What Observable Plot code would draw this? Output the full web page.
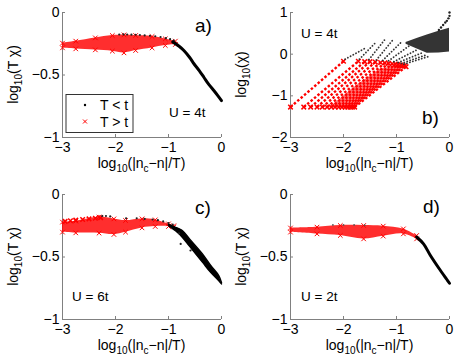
<!DOCTYPE html>
<html><head><meta charset="utf-8">
<script src="https://cdn.jsdelivr.net/npm/d3@7"></script>
<script src="https://cdn.jsdelivr.net/npm/@observablehq/plot@0.6"></script>
<style>
body{margin:0;background:#fff;}
#wrap{position:relative;width:457px;height:364px;font-family:"Liberation Sans",Arial,Helvetica,sans-serif;}
#wrap svg{position:absolute;overflow:visible;}
</style></head><body><div id="wrap"></div>
<script>
// ---- shared ticks / labels ----
const xTicks = [-3, -2, -1, 0];
const yTicksT = [-1, -0.5, 0];
const yTicksB = [-2, -1, 0, 1];
const xLabelParts = [["log", 0], ["10", 1], ["(|n", 0], ["c", 1], ["\u2212n|/T)", 0]];
const yLabelTchi = [["log", 0], ["10", 1], ["(T \u03c7)", 0]];
const yLabelChi = [["log", 0], ["10", 1], ["(\u03c7)", 0]];
const legendLabels = ["T < t", "T > t"];

// ---- panel a (U = 4t) ----
const aRedX = [-3.0, -2.75, -2.38, -2.06, -1.84, -1.62, -1.31, -1.06, -0.87];
const aRedTop = [-0.245, -0.229, -0.203, -0.184, -0.179, -0.184, -0.192, -0.211, -0.229];
const aRedBot = [-0.283, -0.291, -0.299, -0.309, -0.323, -0.304, -0.283, -0.264, -0.256];
const aDotX = [-1.93, -1.85, -1.78, -1.7, -1.62, -1.54, -1.45, -1.35, -1.25, -1.15, -1.05, -0.97, -0.9];
const aDotY = [-0.176, -0.175, -0.176, -0.177, -0.178, -0.18, -0.183, -0.186, -0.19, -0.196, -0.205, -0.213, -0.224];
const aCurveX = [-0.92, -0.8, -0.71, -0.6, -0.52, -0.42, -0.33, -0.24, -0.145, -0.07, 0];
const aCurveY = [-0.235, -0.27, -0.304, -0.36, -0.41, -0.465, -0.52, -0.575, -0.624, -0.665, -0.705];

// ---- panel b (U = 4t, log chi) ----
const bRedX1 = [-3.0, -2.75, -2.62, -2.5, -2.4, -2.31, -2.23, -2.16, -2.09, -2.03, -1.97, -1.92, -1.87, -1.83, -1.79];
const bRedY1 = [-1.27, -1.27, -1.27, -1.27, -1.27, -1.27, -1.27, -1.27, -1.27, -1.27, -1.27, -1.27, -1.27, -1.27, -1.27];
const bRedX2 = [-2.0, -1.72, -1.6, -1.5, -1.4, -1.3, -1.22, -1.15, -1.08, -1.02, -0.97, -0.92, -0.88, -0.85, -0.82];
const bRedY2 = [-0.17, -0.17, -0.18, -0.18, -0.19, -0.2, -0.21, -0.22, -0.23, -0.24, -0.25, -0.26, -0.27, -0.28, -0.3];
const bCoreX = [-2.25, -1.8, -1.3, -0.85];
const bCoreLo = [-1.27, -1.27, -0.73, -0.3];
const bCoreHi = [-1.27, -0.8, -0.35, -0.27];
const bBlkX1 = [-1.97, -1.7, -1.52, -1.38, -1.26, -1.15, -1.05, -0.97, -0.91, -0.86];
const bBlkY1 = [-0.12, -0.12, -0.13, -0.14, -0.15, -0.16, -0.18, -0.2, -0.22, -0.24];
const bBlkX2 = [-1.58, -1.4, -1.22, -1.05, -0.9, -0.76, -0.62, -0.52, -0.44, -0.38];
const bBlkY2 = [0.15, 0.27, 0.35, 0.37, 0.3, 0.2, 0.1, 0.03, -0.02, -0.05];
const bFanX = [-0.82, -0.6, -0.42, -0.2, 0];
const bFanTop = [0.28, 0.38, 0.46, 0.55, 0.62];
const bFanBot = [0.24, 0.12, 0.02, 0.03, 0.05];
const bSpikeX = [-0.2, -0.16, -0.12, -0.08, -0.05, -0.02, 0, 0];
const bSpikeY = [0.58, 0.64, 0.7, 0.76, 0.8, 0.86, 0.92, 1.0];

// ---- panel c (U = 6t) ----
const cRedX = [-3.0, -2.75, -2.31, -2.03, -1.81, -1.5, -1.25, -1.0, -0.9];
const cRedTop = [-0.221, -0.213, -0.181, -0.195, -0.208, -0.195, -0.203, -0.235, -0.25];
const cRedBot = [-0.301, -0.307, -0.309, -0.32, -0.301, -0.267, -0.256, -0.256, -0.26];
const cXrX = [-2.95, -2.85, -2.75, -2.62, -2.5, -2.38, -2.28];
const cXrY = [-0.215, -0.21, -0.205, -0.2, -0.195, -0.19, -0.185];
const cDotX = [-2.25, -2.18, -2.1, -1.8, -1.6, -1.45, -1.3, -1.2, -1.1, -1.0, -0.92, -0.77, -0.585, -0.8];
const cDotY = [-0.172, -0.172, -0.175, -0.19, -0.19, -0.195, -0.2, -0.205, -0.215, -0.228, -0.24, -0.395, -0.448, -0.31];
const cBandX = [-1.0, -0.84, -0.74, -0.6, -0.36, -0.2, -0.05, 0];
const cBandTop = [-0.24, -0.268, -0.288, -0.357, -0.475, -0.57, -0.65, -0.705];
const cBandBot = [-0.25, -0.3, -0.341, -0.415, -0.541, -0.625, -0.69, -0.715];

// ---- panel d (U = 2t) ----
const dRedX = [-3.0, -2.5, -2.06, -1.62, -1.25, -0.87, -0.62];
const dRedTop = [-0.268, -0.261, -0.248, -0.248, -0.253, -0.275, -0.328];
const dRedBot = [-0.301, -0.315, -0.328, -0.355, -0.333, -0.315, -0.355];
const dDotX = [-2.2, -2.0, -1.8, -1.6];
const dDotY = [-0.243, -0.243, -0.243, -0.245];
const dCurveX = [-0.62, -0.49, -0.36, -0.2, -0.05, 0];
const dCurveY = [-0.34, -0.395, -0.488, -0.59, -0.68, -0.71];

// ---- helpers ----
const RED = "#ff0000";
const GRAY = "#808080";
const zip2 = (xs, ys) => xs.map((x, i) => ({x, y: ys[i]}));
const band = (xs, t, b) => xs.map((x, i) => ({x, top: t[i], bot: b[i]}));
const fmt = d => d < 0 ? "\u2212" + Math.abs(d) : String(d);

function redBandMarks(tbl) {
  return [
    Plot.areaY(tbl, {x: "x", y1: "bot", y2: "top", fill: RED, fillOpacity: 0.82, curve: "catmull-rom"}),
    Plot.dot(tbl, {x: "x", y: "top", symbol: "times", r: 2.2, stroke: RED, strokeWidth: 1}),
    Plot.dot(tbl, {x: "x", y: "bot", symbol: "times", r: 2.2, stroke: RED, strokeWidth: 1})
  ];
}

function addText(svg, parts, attrs) {
  const t = d3.select(svg).append("text").attr("fill", "black").attr("text-anchor", "start");
  for (const k in attrs) t.attr(k, attrs[k]);
  let sub = false;
  for (const [s, isSub] of parts) {
    const ts = t.append("tspan").text(s);
    if (isSub && !sub) { ts.attr("dy", 4).attr("font-size", 10); sub = true; }
    else if (isSub) { ts.attr("font-size", 10); }
    else if (sub) { ts.attr("dy", -4); sub = false; }
  }
  return t;
}

function panel({left, top, yDomain, yTicks, marks, yLabel, letter, letterX, letterY, uText, uX, uY}) {
  const W = 228, H = 182, mL = 62, mR = 7, mT = 12, mB = 45;
  const ymin = yDomain[0];
  const svg = Plot.plot({
    width: W, height: H,
    marginLeft: mL, marginRight: mR, marginTop: mT, marginBottom: mB,
    style: {background: "transparent", fontSize: "14px", fontFamily: "'Liberation Sans', Arial, sans-serif", overflow: "visible"},
    x: {domain: [-3, 0], ticks: xTicks, tickSize: 0, tickPadding: 5, tickFormat: fmt, label: null},
    y: {domain: yDomain, ticks: yTicks, tickSize: 0, tickPadding: 3, tickFormat: fmt, label: null},
    marks: [
      Plot.ruleX([-3], {stroke: GRAY}),
      Plot.ruleY([ymin], {stroke: GRAY}),
      Plot.tickX(xTicks, {x: d => d, stroke: GRAY, insetTop: 122}),
      Plot.tickY(yTicks, {y: d => d, stroke: GRAY, insetRight: 156}),
      ...marks
    ]
  });
  svg.style.left = left + "px";
  svg.style.top = top + "px";
  addText(svg, xLabelParts, {x: 141.5, y: 168, "text-anchor": "middle", "font-size": 14});
  addText(svg, yLabel, {transform: "translate(17.5,74.5) rotate(-90)", "text-anchor": "middle", "font-size": 14});
  addText(svg, [[letter, 0]], {x: letterX, y: letterY, "font-size": 19});
  addText(svg, [[uText, 0]], {x: uX, y: uY, "font-size": 13.5});
  document.getElementById("wrap").appendChild(svg);
  return svg;
}

// ---- panel a ----
const aSvg = panel({
  left: 0, top: 0, yDomain: [-1, 0], yTicks: yTicksT, yLabel: yLabelTchi,
  letter: "a)", letterX: 195, letterY: 32, uText: "U = 4t", uX: 169, uY: 117,
  marks: [
    ...redBandMarks(band(aRedX, aRedTop, aRedBot)),
    Plot.dot(zip2(aDotX, aDotY), {x: "x", y: "y", r: 1.1, fill: "#222"}),
    Plot.line(zip2(aCurveX, aCurveY), {x: "x", y: "y", stroke: "black", strokeWidth: 3, curve: "catmull-rom"})
  ]
});
{
  const g = d3.select(aSvg).append("g");
  g.append("rect").attr("x", 66).attr("y", 94.5).attr("width", 67).attr("height", 38)
    .attr("fill", "white").attr("stroke", "#333").attr("stroke-width", 1);
  g.append("circle").attr("cx", 85).attr("cy", 105).attr("r", 1.2).attr("fill", "black");
  g.append("path").attr("d", "M83,119.5L87,123.5M87,119.5L83,123.5").attr("stroke", RED).attr("stroke-width", 1);
  addText(aSvg, [[legendLabels[0], 0]], {x: 100, y: 110, "font-size": 14});
  addText(aSvg, [[legendLabels[1], 0]], {x: 100, y: 126.5, "font-size": 14});
}

// ---- panel b ----
const bRed = bRedX1.map((x, i) => ({x1: x, y1: bRedY1[i], x2: bRedX2[i], y2: bRedY2[i]}));
const bBlk = bBlkX1.map((x, i) => ({x1: x, y1: bBlkY1[i], x2: bBlkX2[i], y2: bBlkY2[i]}));
panel({
  left: 228, top: 0, yDomain: [-2, 1], yTicks: yTicksB, yLabel: yLabelChi,
  letter: "b)", letterX: 194, letterY: 124, uText: "U = 4t", uX: 73, uY: 38,
  marks: [
    Plot.areaY(band(bCoreX, bCoreHi, bCoreLo), {x: "x", y1: "bot", y2: "top", fill: RED, fillOpacity: 0.55}),
    Plot.link(bRed, {x1: "x1", y1: "y1", x2: "x2", y2: "y2", stroke: RED, strokeWidth: 2.4, strokeDasharray: "2.5,2"}),
    Plot.dot(bRed, {x: "x1", y: "y1", symbol: "times", r: 2.2, stroke: RED}),
    Plot.dot(bRed, {x: "x2", y: "y2", symbol: "times", r: 2.2, stroke: RED}),
    Plot.link(bBlk, {x1: "x1", y1: "y1", x2: "x2", y2: "y2", stroke: "#333", strokeWidth: 1.8, strokeDasharray: "0.1,3", strokeLinecap: "round"}),
    Plot.areaY(band(bFanX, bFanTop, bFanBot), {x: "x", y1: "bot", y2: "top", fill: "#111", fillOpacity: 0.85}),
    Plot.dot(zip2(bSpikeX, bSpikeY), {x: "x", y: "y", r: 1.2, fill: "#222"})
  ]
});

// ---- panel c ----
panel({
  left: 0, top: 182, yDomain: [-1, 0], yTicks: yTicksT, yLabel: yLabelTchi,
  letter: "c)", letterX: 195, letterY: 32, uText: "U = 6t", uX: 72, uY: 119,
  marks: [
    ...redBandMarks(band(cRedX, cRedTop, cRedBot)),
    Plot.dot(zip2(cXrX, cXrY), {x: "x", y: "y", symbol: "times", r: 2.2, stroke: RED}),
    Plot.areaY(band(cBandX, cBandTop, cBandBot), {x: "x", y1: "bot", y2: "top", fill: "black", curve: "catmull-rom"}),
    Plot.line(zip2(cBandX, cBandTop), {x: "x", y: "y", stroke: "black", strokeWidth: 1.5, curve: "catmull-rom"}),
    Plot.line(zip2(cBandX, cBandBot), {x: "x", y: "y", stroke: "black", strokeWidth: 1.5, curve: "catmull-rom"}),
    Plot.dot(zip2(cDotX, cDotY), {x: "x", y: "y", r: 1.1, fill: "#222"})
  ]
});

// ---- panel d ----
panel({
  left: 228, top: 182, yDomain: [-1, 0], yTicks: yTicksT, yLabel: yLabelTchi,
  letter: "d)", letterX: 195, letterY: 31, uText: "U = 2t", uX: 73, uY: 119,
  marks: [
    ...redBandMarks(band(dRedX, dRedTop, dRedBot)),
    Plot.dot(zip2(dDotX, dDotY), {x: "x", y: "y", r: 0.9, fill: "#555"}),
    Plot.line(zip2(dCurveX, dCurveY), {x: "x", y: "y", stroke: "black", strokeWidth: 3, curve: "catmull-rom"})
  ]
});
</script></body></html>
